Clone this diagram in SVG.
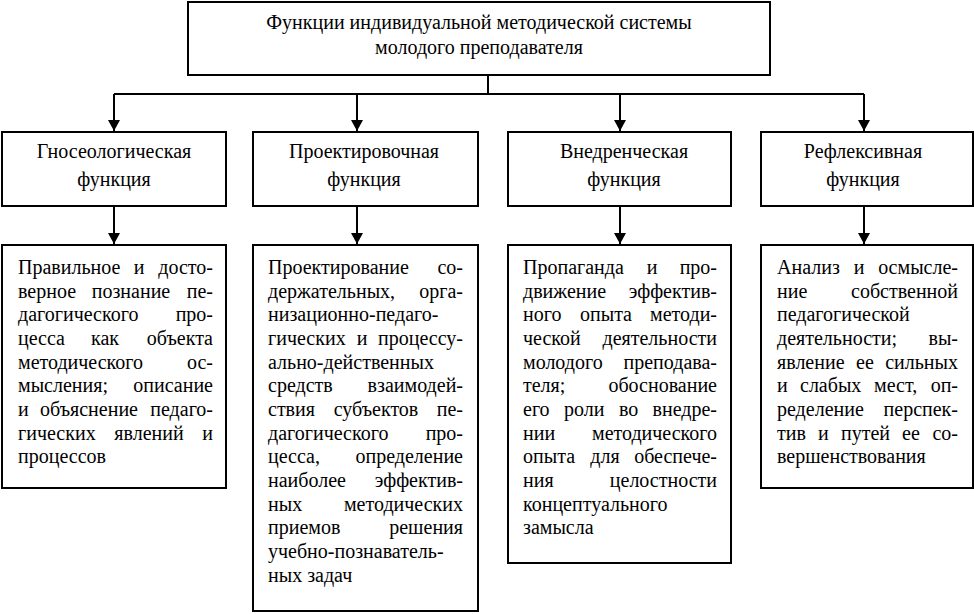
<svg xmlns="http://www.w3.org/2000/svg" width="974" height="614" viewBox="0 0 974 614">
<style>
.box{fill:#fff;stroke:#000;stroke-width:2}
.t{font-family:"Liberation Serif","Times New Roman",serif;font-size:20px;fill:#000}
.c{text-anchor:middle}
.e{text-anchor:end}
.ln{fill:none;stroke:#000;stroke-width:2}
</style>
<defs>
<marker id="ah" markerUnits="userSpaceOnUse" markerWidth="12" markerHeight="12" refX="11" refY="6" orient="auto">
<path d="M0,0 L11,6 L0,12 z" fill="#000"/>
</marker>
</defs>
<rect width="974" height="614" fill="#fff"/>
<g id="connectors">
<path class="ln" d="M488,75 V94 M114,94 H864"/>
<path class="ln" d="M114,94 V131" marker-end="url(#ah)"/>
<path class="ln" d="M357,94 V131" marker-end="url(#ah)"/>
<path class="ln" d="M620,94 V131" marker-end="url(#ah)"/>
<path class="ln" d="M864,94 V131" marker-end="url(#ah)"/>
<path class="ln" d="M114,206 V244" marker-end="url(#ah)"/>
<path class="ln" d="M357,206 V244" marker-end="url(#ah)"/>
<path class="ln" d="M620,206 V244" marker-end="url(#ah)"/>
<path class="ln" d="M864,206 V244" marker-end="url(#ah)"/>
</g>
<g id="title">
<rect class="box" x="188" y="2" width="582" height="73"/>
<text class="t c" x="479" y="29">Функции индивидуальной методической системы</text>
<text class="t c" x="479" y="54">молодого преподавателя</text>
</g>
<g id="f1">
<rect class="box" x="2" y="132" width="224" height="74"/>
<text class="t c" x="114" y="158">Гносеологическая</text>
<text class="t c" x="114" y="186">функция</text>
</g>
<g id="f2">
<rect class="box" x="253" y="132" width="225" height="74"/>
<text class="t c" x="364" y="158">Проектировочная</text>
<text class="t c" x="364" y="186">функция</text>
</g>
<g id="f3">
<rect class="box" x="508" y="132" width="223" height="74"/>
<text class="t c" x="624" y="158">Внедренческая</text>
<text class="t c" x="624" y="186">функция</text>
</g>
<g id="f4">
<rect class="box" x="761" y="132" width="212" height="74"/>
<text class="t c" x="863" y="158">Рефлексивная</text>
<text class="t c" x="863" y="186">функция</text>
</g>
<g id="d1">
<rect class="box" x="2" y="245" width="224" height="243"/>
<text class="t" x="18" y="274">Правильное</text><text class="t c" x="139" y="274">и</text><text class="t e" x="213" y="274">досто-</text>
<text class="t" x="18" y="298">верное</text><text class="t c" x="131" y="298">познание</text><text class="t e" x="213" y="298">пе-</text>
<text class="t" x="18" y="321">дагогического</text><text class="t e" x="213" y="321">про-</text>
<text class="t" x="18" y="345">цесса</text><text class="t c" x="105" y="345">как</text><text class="t e" x="213" y="345">объекта</text>
<text class="t" x="18" y="369">методического</text><text class="t e" x="213" y="369">ос-</text>
<text class="t" x="18" y="392">мысления;</text><text class="t e" x="213" y="392">описание</text>
<text class="t" x="18" y="416">и</text><text class="t c" x="89" y="416">объяснение</text><text class="t e" x="213" y="416">педаго-</text>
<text class="t" x="18" y="440">гических</text><text class="t c" x="149" y="440">явлений</text><text class="t e" x="213" y="440">и</text>
<text class="t" x="18" y="463">процессов</text>
</g>
<g id="d2">
<rect class="box" x="253" y="245" width="225" height="366"/>
<text class="t" x="268" y="274">Проектирование</text><text class="t e" x="463" y="274">со-</text>
<text class="t" x="268" y="298">держательных,</text><text class="t e" x="463" y="298">орга-</text>
<text class="t" x="268" y="321">низационно-педаго-</text>
<text class="t" x="268" y="345">гических</text><text class="t c" x="362" y="345">и</text><text class="t e" x="463" y="345">процессу-</text>
<text class="t" x="268" y="369">ально-действенных</text>
<text class="t" x="268" y="392">средств</text><text class="t e" x="463" y="392">взаимодей-</text>
<text class="t" x="268" y="416">ствия</text><text class="t c" x="376" y="416">субъектов</text><text class="t e" x="463" y="416">пе-</text>
<text class="t" x="268" y="440">дагогического</text><text class="t e" x="463" y="440">про-</text>
<text class="t" x="268" y="463">цесса,</text><text class="t e" x="463" y="463">определение</text>
<text class="t" x="268" y="487">наиболее</text><text class="t e" x="463" y="487">эффектив-</text>
<text class="t" x="268" y="511">ных</text><text class="t e" x="463" y="511">методических</text>
<text class="t" x="268" y="534">приемов</text><text class="t e" x="463" y="534">решения</text>
<text class="t" x="268" y="558">учебно-познаватель-</text>
<text class="t" x="268" y="582">ных задач</text>
</g>
<g id="d3">
<rect class="box" x="508" y="245" width="223" height="318"/>
<text class="t" x="523" y="274">Пропаганда</text><text class="t c" x="652" y="274">и</text><text class="t e" x="717" y="274">про-</text>
<text class="t" x="523" y="298">движение</text><text class="t e" x="717" y="298">эффектив-</text>
<text class="t" x="523" y="321">ного</text><text class="t c" x="606" y="321">опыта</text><text class="t e" x="717" y="321">методи-</text>
<text class="t" x="523" y="345">ческой</text><text class="t e" x="717" y="345">деятельности</text>
<text class="t" x="523" y="369">молодого</text><text class="t e" x="717" y="369">преподава-</text>
<text class="t" x="523" y="392">теля;</text><text class="t e" x="717" y="392">обоснование</text>
<text class="t" x="523" y="416">его</text><text class="t" x="564" y="416">роли</text><text class="t" x="619" y="416">во</text><text class="t e" x="717" y="416">внедре-</text>
<text class="t" x="523" y="440">нии</text><text class="t e" x="717" y="440">методического</text>
<text class="t" x="523" y="463">опыта</text><text class="t c" x="605" y="463">для</text><text class="t e" x="717" y="463">обеспече-</text>
<text class="t" x="523" y="487">ния</text><text class="t e" x="717" y="487">целостности</text>
<text class="t" x="523" y="511">концептуального</text>
<text class="t" x="523" y="534">замысла</text>
</g>
<g id="d4">
<rect class="box" x="761" y="245" width="212" height="243"/>
<text class="t" x="777" y="274">Анализ</text><text class="t c" x="859" y="274">и</text><text class="t e" x="958" y="274">осмысле-</text>
<text class="t" x="777" y="298">ние</text><text class="t e" x="958" y="298">собственной</text>
<text class="t" x="777" y="321">педагогической</text>
<text class="t" x="777" y="345">деятельности;</text><text class="t e" x="958" y="345">вы-</text>
<text class="t" x="777" y="369">явление</text><text class="t c" x="865" y="369">ее</text><text class="t e" x="958" y="369">сильных</text>
<text class="t" x="777" y="392">и</text><text class="t" x="800" y="392">слабых</text><text class="t" x="874" y="392">мест,</text><text class="t e" x="958" y="392">оп-</text>
<text class="t" x="777" y="416">ределение</text><text class="t e" x="958" y="416">перспек-</text>
<text class="t" x="777" y="440">тив</text><text class="t" x="818" y="440">и</text><text class="t" x="841" y="440">путей</text><text class="t" x="902" y="440">ее</text><text class="t e" x="958" y="440">со-</text>
<text class="t" x="777" y="463">вершенствования</text>
</g>
</svg>
